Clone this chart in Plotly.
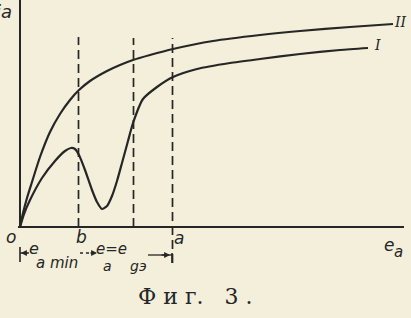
import plotly.graph_objects as go

# ---- data (x: e_a, y: i_a, arbitrary units) ----
curve2_x = [0, 3, 7, 12, 20, 30, 40, 50, 59, 70, 87, 100, 113, 130, 153, 193, 240, 280, 330, 373]
curve2_y = [0, 14, 29, 45, 70, 95, 113, 127, 137, 146, 156, 162, 167, 172, 178, 186, 192, 196, 200, 203]

curve1_x = [0, 4, 10, 22, 35, 45, 51, 55, 59, 65, 72, 77, 82, 87, 92, 97, 102, 108, 113, 123, 137, 153, 177, 210, 240, 280, 320, 348]
curve1_y = [0, 13, 27, 49, 66, 76, 79, 78, 72, 57, 37, 25, 18, 21, 31, 46, 64, 86, 104, 128, 140, 150, 158, 164, 168, 173, 177, 179]

marker_x = [58.5, 113.5, 152.5]      # b, e_g, a
marker_top = [190, 189, 189]
marker_bottom = [0, 0, -36]

INK = "#262626"
BG = "#f3efdb"

def X(px):
    return px - 20

def Y(py):
    return 227 - py

fig = go.Figure()
fig.add_trace(go.Scatter(x=curve2_x, y=curve2_y, mode="lines",
                         line=dict(color=INK, width=2.2, shape="spline", smoothing=0.7),
                         hoverinfo="skip"))
fig.add_trace(go.Scatter(x=curve1_x, y=curve1_y, mode="lines",
                         line=dict(color=INK, width=2.2, shape="spline", smoothing=0.6),
                         hoverinfo="skip"))

shapes = []
# axes
shapes.append(dict(type="line", x0=0, x1=0, y0=0, y1=Y(-2), line=dict(color=INK, width=2)))
shapes.append(dict(type="line", x0=X(18), x1=X(404), y0=0, y1=0, line=dict(color=INK, width=2)))
# dashed verticals
for mx, t, b in zip(marker_x, marker_top, marker_bottom):
    shapes.append(dict(type="line", x0=mx, x1=mx, y0=b, y1=t,
                       line=dict(color=INK, width=1.7, dash="9px,5px")))
# bracket ticks of the bottom dimension line
shapes.append(dict(type="line", x0=0, x1=0, y0=Y(247), y1=Y(262), line=dict(color=INK, width=1.6)))
shapes.append(dict(type="line", x0=X(20), x1=X(29), y0=Y(253), y1=Y(253), line=dict(color=INK, width=1.4)))
shapes.append(dict(type="line", x0=X(80), x1=X(95), y0=Y(253), y1=Y(253),
                   line=dict(color=INK, width=1.3, dash="3px,3px")))
shapes.append(dict(type="line", x0=X(148), x1=X(172), y0=Y(255), y1=Y(255), line=dict(color=INK, width=1.3)))
shapes.append(dict(type="line", x0=X(172), x1=X(172), y0=Y(253), y1=Y(263), line=dict(color=INK, width=1.6)))

ann = []
def txt(t, px, py, size=17, font="DejaVu Sans", italic=True, **kw):
    ann.append(dict(text=("<i>%s</i>" % t) if italic else t, x=X(px), y=Y(py),
                    xref="x", yref="y", showarrow=False,
                    font=dict(family=font, size=size, color=INK), **kw))

txt("ia", 14, 11, size=18, xanchor="right")
txt("o", 11, 237)
txt("b", 81, 237)
txt("a", 179, 238)
txt("e", 389, 245, size=17)
txt("a", 398, 252, size=15)
txt("II", 400, 22, size=14, font="DejaVu Serif")
txt("I", 377, 45, size=14, font="DejaVu Serif")
# dimension labels
txt("e", 34, 248, size=16)
txt("a min", 57, 263, size=15)
txt("e=e", 111, 249, size=15)
txt("a", 107, 266, size=14)
txt("gэ", 138, 266, size=14)
# caption
txt("Ф и г.&nbsp;&nbsp; 3 .", 195, 296, size=22, font="DejaVu Serif", italic=False)

# arrowheads on the dimension line
ann.append(dict(x=X(21), y=Y(253), ax=8, ay=0, xref="x", yref="y",
                text="", showarrow=True, arrowhead=2, arrowsize=0.9, arrowwidth=1.3, arrowcolor=INK))
ann.append(dict(x=X(97), y=Y(253), ax=-8, ay=0, xref="x", yref="y",
                text="", showarrow=True, arrowhead=2, arrowsize=0.9, arrowwidth=1.3, arrowcolor=INK))
ann.append(dict(x=X(170), y=Y(255), ax=-10, ay=0, xref="x", yref="y",
                text="", showarrow=True, arrowhead=2, arrowsize=0.9, arrowwidth=1.3, arrowcolor=INK))

fig.update_layout(
    width=411, height=318,
    margin=dict(l=0, r=0, t=0, b=0),
    paper_bgcolor=BG, plot_bgcolor=BG,
    showlegend=False,
    xaxis=dict(range=[-20, 391], visible=False, fixedrange=True),
    yaxis=dict(range=[-91, 227], visible=False, fixedrange=True),
    shapes=shapes, annotations=ann,
)

fig.write_html("out.html", config={"displayModeBar": False})
